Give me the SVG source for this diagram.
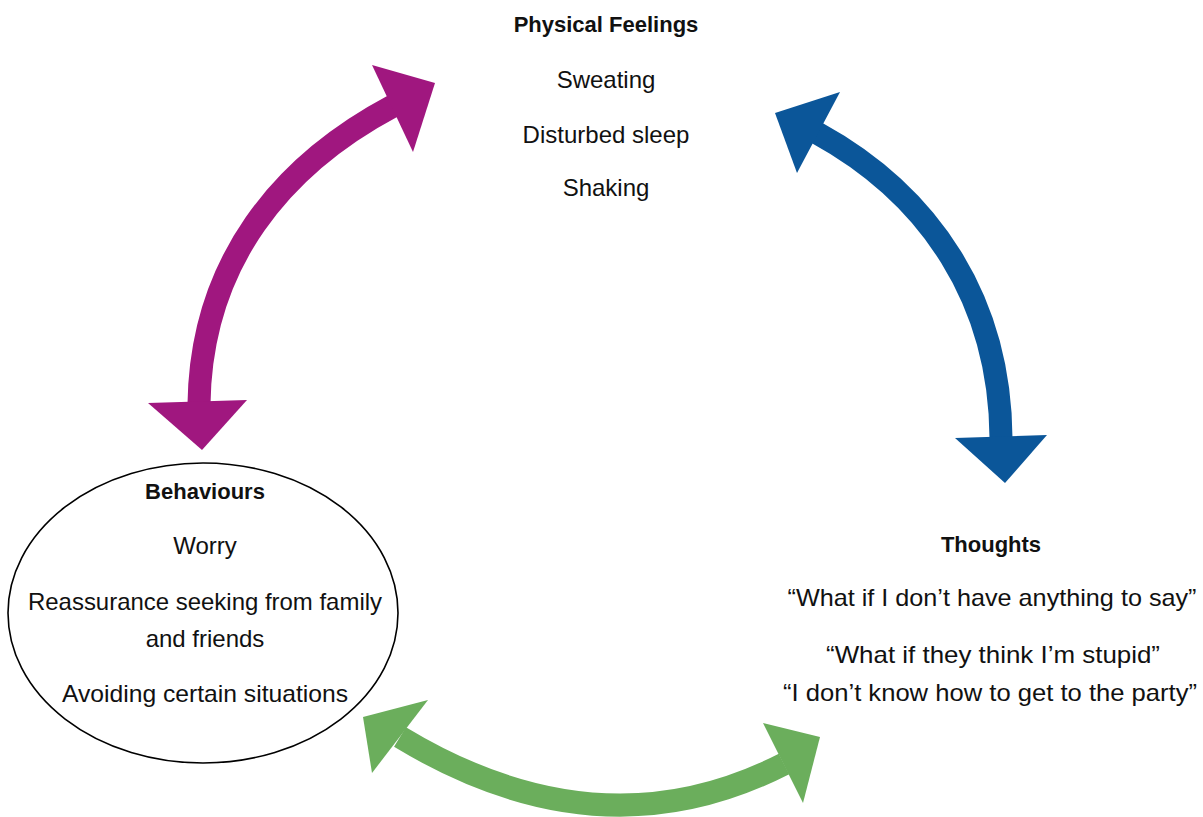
<svg xmlns="http://www.w3.org/2000/svg" width="1203" height="817" viewBox="0 0 1203 817">
<style>
.t{font-family:"Liberation Sans",Arial,sans-serif;font-size:24px;fill:#111;text-anchor:middle}
.h{font-family:"Liberation Sans",Arial,sans-serif;font-size:22px;font-weight:bold;fill:#111;text-anchor:middle}
.shaft{fill:none;stroke-width:23}
</style>
<rect width="1203" height="817" fill="#fff"/>
<g id="connectors">
  <g id="arrow-purple" fill="#A0177F">
    <path class="shaft" stroke="#A0177F" d="M199,404 C201,262 282,165 393,106"/>
    <polygon points="435,83 372,65 413,152"/>
    <polygon points="202,450 148,403 247,400"/>
  </g>
  <g id="arrow-blue" fill="#0B5699">
    <path class="shaft" stroke="#0B5699" d="M1001,438 C1000,300 930,195 817,133"/>
    <polygon points="775,113 840,92 797,173"/>
    <polygon points="1005,483 955,438 1047,435"/>
  </g>
  <g id="arrow-green" fill="#6BAE5C">
    <path class="shaft" stroke="#6BAE5C" stroke-width="22" d="M400,737 Q600,858 784,764"/>
    <polygon points="363,717 428,700 372,773"/>
    <polygon points="820,737 763,723 803,803"/>
  </g>
</g>
<g id="physical-feelings">
  <text class="h" x="606" y="32">Physical Feelings</text>
  <text class="t" x="606" y="88">Sweating</text>
  <text class="t" x="606" y="143">Disturbed sleep</text>
  <text class="t" x="606" y="196">Shaking</text>
</g>
<g id="behaviours">
  <ellipse cx="203" cy="613" rx="195" ry="150" fill="none" stroke="#000" stroke-width="1.6"/>
  <text class="h" x="205" y="499">Behaviours</text>
  <text class="t" x="205" y="554">Worry</text>
  <text class="t" x="205" y="610" textLength="354" lengthAdjust="spacingAndGlyphs">Reassurance seeking from family</text>
  <text class="t" x="205" y="647">and friends</text>
  <text class="t" x="205" y="702" textLength="286" lengthAdjust="spacingAndGlyphs">Avoiding certain situations</text>
</g>
<g id="thoughts">
  <text class="h" x="991" y="552">Thoughts</text>
  <text class="t" x="992" y="606" textLength="409" lengthAdjust="spacingAndGlyphs">“What if I don’t have anything to say”</text>
  <text class="t" x="993" y="663" textLength="334" lengthAdjust="spacingAndGlyphs">“What if they think I’m stupid”</text>
  <text class="t" x="990" y="701" textLength="414" lengthAdjust="spacingAndGlyphs">“I don’t know how to get to the party”</text>
</g>
</svg>
